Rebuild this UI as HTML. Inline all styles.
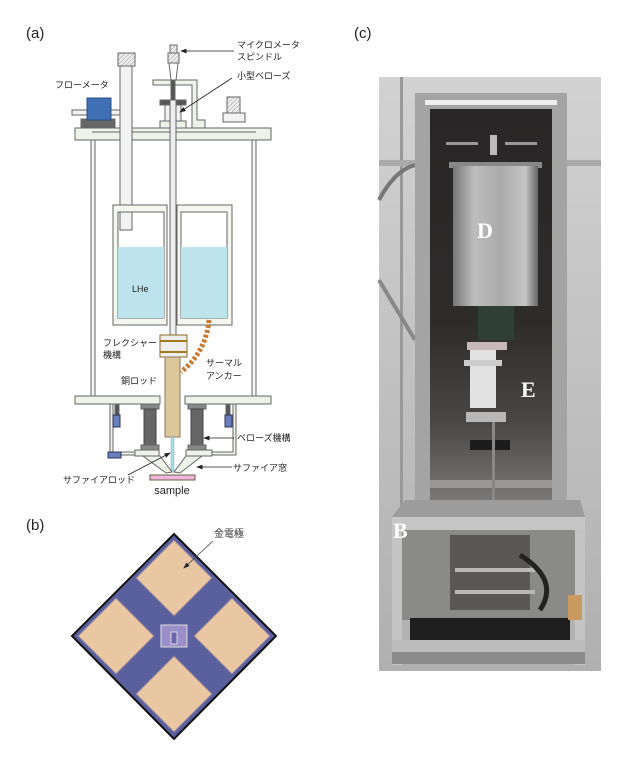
<!DOCTYPE html>
<html><head><meta charset="utf-8">
<style>
html,body{margin:0;padding:0;background:#fff;}
svg{display:block;}
.j{font-family:"Liberation Sans","Noto Sans CJK JP",sans-serif;font-size:9px;fill:#222;}
.l{font-family:"Liberation Sans",sans-serif;font-size:15px;fill:#222;}
.w{font-family:"Liberation Serif",serif;font-weight:bold;font-size:22px;fill:#fff;}
</style></head><body>
<svg width="640" height="764" viewBox="0 0 640 764" xmlns="http://www.w3.org/2000/svg">
<defs>
<pattern id="h" width="3" height="3" patternUnits="userSpaceOnUse" patternTransform="rotate(45)">
<rect width="3" height="3" fill="#eee"/><line x1="0" y1="0" x2="0" y2="3" stroke="#999" stroke-width="1"/></pattern>
<linearGradient id="cyl" x1="0" x2="1"><stop offset="0" stop-color="#777"/><stop offset="0.25" stop-color="#bdbdbd"/><stop offset="0.55" stop-color="#aaa"/><stop offset="0.85" stop-color="#c4c4c4"/><stop offset="1" stop-color="#666"/></linearGradient>
<linearGradient id="bg" x1="0" x2="0" y1="0" y2="1"><stop offset="0" stop-color="#d2d2d2"/><stop offset="1" stop-color="#b0b0b0"/></linearGradient>
<linearGradient id="ch" x1="0" x2="0" y1="0" y2="1"><stop offset="0" stop-color="#282626"/><stop offset="0.55" stop-color="#2e2c2b"/><stop offset="0.8" stop-color="#4a4846"/><stop offset="1" stop-color="#7a7876"/></linearGradient>
<marker id="ar" markerWidth="8" markerHeight="6" refX="7" refY="3" orient="auto"><path d="M0,0 L8,3 L0,6z" fill="#222"/></marker>
</defs>

<text class="l" x="26" y="38">(a)</text>
<text class="l" x="26" y="530">(b)</text>
<text class="l" x="354" y="38">(c)</text>

<!-- (a) diagram -->
<g stroke="#666" stroke-width="1" fill="#eef3ea">
<rect x="91" y="139" width="4" height="258" fill="#f4f4f4"/>
<rect x="252" y="139" width="4" height="258" fill="#f4f4f4"/>
<rect x="75" y="128" width="196" height="12" fill="#eef3ea"/>
<line x1="92" y1="132" x2="256" y2="132"/>
<rect x="75" y="396" width="85" height="8"/>
<rect x="185" y="396" width="86" height="8"/>
<rect x="120" y="66" width="12" height="164" fill="#f2f2f2"/>
<rect x="118" y="53" width="17" height="13" fill="url(#h)"/>
<rect x="72" y="110" width="48" height="5" fill="#f2f2f2"/>
<rect x="81" y="119" width="34" height="9" fill="#666"/>
<rect x="87" y="98" width="24" height="22" fill="#3f6fb5" stroke="#2c4f80"/>
<rect x="113" y="205" width="54" height="120" fill="#f4f7f0"/>
<rect x="118" y="212" width="46" height="106" fill="#fff"/>
<rect x="118" y="247" width="46" height="71" fill="#bde3ec" stroke="none"/>
<rect x="177" y="205" width="55" height="120" fill="#f4f7f0"/>
<rect x="181" y="212" width="46" height="106" fill="#fff"/>
<rect x="181" y="247" width="46" height="71" fill="#bde3ec" stroke="none"/>
<rect x="120" y="212" width="12" height="18" fill="#f2f2f2"/>
<path d="M153,80 H197 V120 H205 V128 H192 V85 H153z" fill="#eef3ea"/>
<rect x="223" y="113" width="22" height="9" fill="#f2f2f2"/>
<rect x="227" y="97" width="13" height="16" fill="url(#h)"/>
<rect x="160" y="100" width="26" height="5" fill="#555"/>
<rect x="165" y="105" width="16" height="16" fill="#f2f2f2"/>
<rect x="160" y="121" width="26" height="7" fill="#eef3ea"/>
<rect x="170" y="100" width="6" height="240" fill="#eee"/>
<rect x="170" y="45" width="7" height="8" fill="url(#h)"/>
<rect x="168" y="53" width="11" height="10" fill="url(#h)"/>
<path d="M169,63 L178,63 L176,80 L171,80z" fill="#fff"/>
<rect x="171" y="80" width="4" height="20" fill="#555"/>
<rect x="160" y="335" width="27" height="22" fill="#eee" stroke="#8a6a20"/>
<line x1="160" y1="341" x2="187" y2="341" stroke="#a07a20" stroke-width="2"/>
<line x1="160" y1="352" x2="187" y2="352" stroke="#a07a20" stroke-width="2"/>
<rect x="165" y="357" width="15" height="80" fill="#dcc79a" stroke="#8a7a5a"/>
<rect x="171" y="437" width="3" height="34" fill="#a9dceb" stroke="#7ab" stroke-width="0.5"/>
<rect x="141" y="404" width="18" height="5" fill="#888"/>
<rect x="144" y="409" width="12" height="36" fill="#666" stroke="#444"/>
<rect x="141" y="445" width="18" height="5" fill="#888"/>
<rect x="188" y="404" width="18" height="5" fill="#888"/>
<rect x="191" y="409" width="12" height="36" fill="#666" stroke="#444"/>
<rect x="188" y="445" width="18" height="5" fill="#888"/>
<path d="M113,404 V452 H137 V455 H110 V404z" fill="#eef3ea"/>
<path d="M233,404 V452 H209 V455 H236 V404z" fill="#eef3ea"/>
<rect x="135" y="450" width="24" height="6"/>
<rect x="186" y="450" width="26" height="6"/>
<path d="M143,456 L160,456 L172,472 L166,473z" fill="#eef3ea"/>
<path d="M202,456 L186,456 L174,472 L180,473z" fill="#eef3ea"/>
<rect x="115" y="405" width="4" height="10" fill="#555"/>
<rect x="113" y="415" width="7" height="12" fill="#6a7fc0" stroke="#335"/>
<rect x="226" y="405" width="4" height="10" fill="#555"/>
<rect x="225" y="415" width="7" height="12" fill="#6a7fc0" stroke="#335"/>
<rect x="108" y="452" width="13" height="6" fill="#6a7fc0" stroke="#335"/>
</g>
<path d="M209,320 Q206,352 181,372" fill="none" stroke="#c77a30" stroke-width="5" stroke-dasharray="3,2"/>
<rect x="150" y="475" width="45" height="5" fill="#f0b6de" stroke="#664"/>
<text x="172" y="494" text-anchor="middle" style="font-family:'Liberation Sans',sans-serif;font-size:11px;fill:#222">sample</text>
<text x="132" y="292" style="font-family:'Liberation Sans',sans-serif;font-size:9px;fill:#222">LHe</text>

<g stroke="#222" stroke-width="0.8">
<line x1="234" y1="51" x2="181" y2="51" marker-end="url(#ar)"/>
<line x1="232" y1="78" x2="180" y2="112" marker-end="url(#ar)"/>
<line x1="234" y1="438" x2="204" y2="438" marker-end="url(#ar)"/>
<line x1="232" y1="467" x2="197" y2="467" marker-end="url(#ar)"/>
<line x1="128" y1="475" x2="170" y2="453" marker-end="url(#ar)"/>
</g>
<text class="j" x="237" y="48">マイクロメータ</text>
<text class="j" x="237" y="60">スピンドル</text>
<text class="j" x="237" y="79">小型ベローズ</text>
<text class="j" x="55" y="88">フローメータ</text>
<text class="j" x="103" y="346">フレクシャー</text>
<text class="j" x="103" y="358">機構</text>
<text class="j" x="206" y="366">サーマル</text>
<text class="j" x="206" y="379">アンカー</text>
<text class="j" x="121" y="384">銅ロッド</text>
<text class="j" x="237" y="441">ベローズ機構</text>
<text class="j" x="233" y="471">サファイア窓</text>
<text class="j" x="63" y="483">サファイアロッド</text>

<!-- (b) chip -->
<polygon points="174,534 276,636 174,739 72,636" fill="#5a5f9e" stroke="#111" stroke-width="2"/>
<polygon points="174,540 212,578 174,616 136,578" fill="#e8c7a2" stroke="#8f7f9f"/>
<polygon points="116,598 154,636 116,674 78,636" fill="#e8c7a2" stroke="#8f7f9f"/>
<polygon points="232,598 270,636 232,674 194,636" fill="#e8c7a2" stroke="#8f7f9f"/>
<polygon points="174,656 212,694 174,732 136,694" fill="#e8c7a2" stroke="#8f7f9f"/>
<rect x="161" y="625" width="26" height="22" fill="#9a8fc8" stroke="#ddd" stroke-width="1"/>
<rect x="171" y="632" width="6" height="12" fill="#6c64a8" stroke="#eee" stroke-width="0.8"/>
<text x="214" y="537" style="font-family:'Liberation Sans','Noto Sans CJK JP',sans-serif;font-size:10px;fill:#333">金電極</text>
<line x1="213" y1="541" x2="184" y2="568" stroke="#444" stroke-width="0.8" marker-end="url(#ar)"/>

<!-- (c) photo -->
<rect x="379" y="77" width="222" height="594" fill="url(#bg)"/>
<rect x="400" y="77" width="3" height="440" fill="#999"/>
<rect x="379" y="160" width="36" height="6" fill="#aaa"/>
<rect x="567" y="160" width="34" height="6" fill="#aaa"/>
<path d="M379,200 Q395,170 415,165" fill="none" stroke="#777" stroke-width="4"/>
<path d="M379,280 L415,340" fill="none" stroke="#888" stroke-width="4"/>
<!-- chamber frame -->
<rect x="415" y="93" width="152" height="412" fill="#a4a4a4"/>
<rect x="425" y="100" width="132" height="5" fill="#eee"/>
<rect x="430" y="109" width="122" height="392" fill="url(#ch)"/>
<rect x="430" y="480" width="122" height="8" fill="#9a9896"/>
<rect x="470" y="440" width="40" height="10" fill="#1c1c1c"/>
<rect x="446" y="142" width="32" height="3" fill="#999"/>
<rect x="505" y="142" width="32" height="3" fill="#999"/>
<rect x="490" y="135" width="7" height="20" fill="#bbb"/>
<rect x="449" y="162" width="93" height="6" fill="#888"/>
<rect x="453" y="166" width="85" height="140" fill="url(#cyl)"/>
<rect x="478" y="306" width="36" height="34" fill="#2f3e36"/>
<rect x="467" y="342" width="40" height="8" fill="#c8b8bc"/>
<rect x="470" y="350" width="26" height="58" fill="#e2e2e2"/>
<rect x="464" y="360" width="38" height="6" fill="#ccc"/>
<rect x="466" y="412" width="40" height="10" fill="#b8b8b8"/>
<rect x="492" y="422" width="3" height="80" fill="#888"/>
<!-- stand -->
<polygon points="405,500 580,500 585,517 392,517" fill="#9c9c9c"/>
<rect x="392" y="517" width="193" height="13" fill="#c6c6c6"/>
<rect x="392" y="530" width="10" height="135" fill="#c4c4c4"/>
<rect x="575" y="530" width="10" height="135" fill="#c4c4c4"/>
<rect x="402" y="530" width="173" height="90" fill="#8a8a88"/>
<rect x="450" y="535" width="80" height="75" fill="#5a5856"/>
<rect x="455" y="568" width="80" height="4" fill="#b8b8b8"/>
<rect x="455" y="590" width="80" height="4" fill="#b8b8b8"/>
<path d="M520,555 Q560,580 540,610" fill="none" stroke="#222" stroke-width="5"/>
<rect x="410" y="618" width="160" height="22" fill="#1e1e1e"/>
<rect x="392" y="640" width="193" height="12" fill="#bcbcbc"/>
<rect x="392" y="652" width="193" height="12" fill="#8c8c8c"/>
<rect x="568" y="595" width="14" height="25" fill="#c99a60"/>
<text class="w" x="477" y="238">D</text>
<text class="w" x="521" y="397">E</text>
<text class="w" x="393" y="538">B</text>
</svg>
</body></html>
